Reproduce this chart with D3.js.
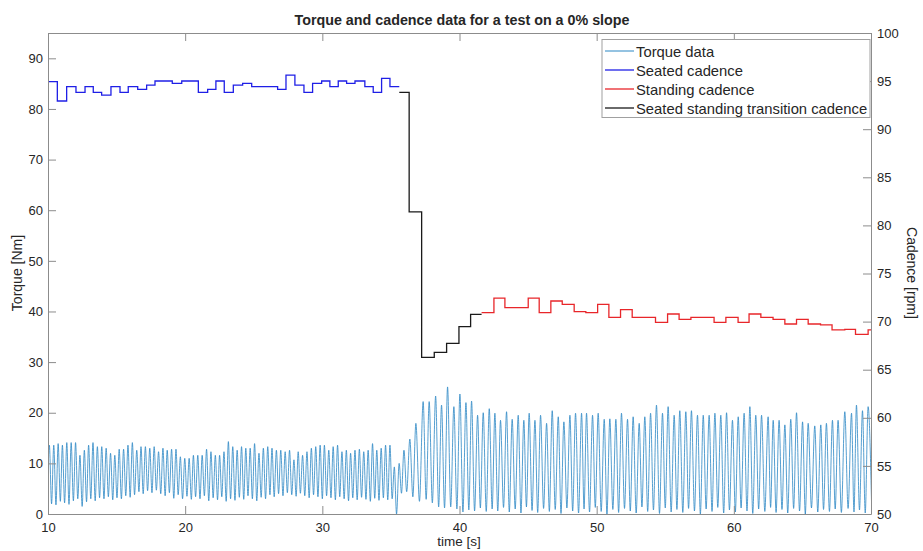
<!DOCTYPE html>
<html>
<head>
<meta charset="utf-8">
<script src="https://cdn.jsdelivr.net/npm/d3@7"></script>
<style>
  body { margin: 0; background: #fff; }
  text { font-family: "Liberation Sans", Arial, sans-serif; fill: #262626; }
</style>
</head>
<body>
<svg id="chart" width="923" height="551"></svg>
<script>
const peakTime = [10.10,10.42,10.74,11.05,11.37,11.69,12.01,12.33,12.65,12.96,13.28,13.60,13.92,14.24,14.56,14.87,15.19,15.51,15.83,16.15,
  16.47,16.78,17.10,17.42,17.74,18.06,18.38,18.69,19.01,19.33,19.65,19.97,20.29,20.60,20.92,21.24,21.56,21.88,22.20,22.51,
  22.83,23.15,23.47,23.79,24.11,24.42,24.74,25.06,25.38,25.70,26.02,26.33,26.65,26.97,27.29,27.61,27.93,28.24,28.56,28.88,
  29.20,29.52,29.84,30.15,30.47,30.79,31.11,31.43,31.75,32.06,32.38,32.70,33.02,33.34,33.66,33.97,34.29,34.61,34.93,
  35.25,35.60,35.95,36.38,36.82,37.35,37.79,38.26,38.69,39.13,39.59,40.03,40.47,40.88,41.32,41.73,42.17,
  42.58,42.99,43.43,43.84,44.28,44.69,45.08,45.50,45.91,46.35,46.76,47.20,47.61,48.05,48.46,48.90,49.26,49.70,50.11,50.55,
  50.96,51.40,51.81,52.25,52.66,53.10,53.51,53.93,54.36,54.80,55.21,55.65,56.06,56.50,56.91,57.35,57.77,58.20,58.62,59.05,
  59.47,59.90,60.32,60.75,61.17,61.60,62.02,62.50,62.87,63.30,63.72,64.15,64.57,65.01,65.42,65.90,66.34,66.75,67.19,67.60,
  68.09,68.58,68.94,69.38,69.79];
const peakValue = [13.6,13.6,13.9,13.6,14.1,14.1,14.1,11.6,12.6,13.6,14.1,13.3,13.3,13.0,12.0,11.6,12.8,12.8,13.6,14.1,
  12.6,13.3,13.3,13.0,13.3,12.3,13.0,12.6,12.8,12.8,11.3,11.0,11.0,11.6,11.6,11.6,12.8,12.3,11.6,11.6,
  12.3,14.3,13.3,12.6,13.3,13.0,13.0,13.9,12.0,13.0,13.3,13.0,12.6,12.6,12.3,12.6,10.7,12.3,11.6,12.3,
  13.0,13.3,13.6,13.6,12.6,13.3,13.6,12.3,12.6,12.0,12.6,12.8,12.3,12.6,13.9,12.6,13.0,13.6,13.6,
  9.3,10.0,12.6,14.8,17.9,22.2,22.2,23.3,21.5,25.1,21.2,23.7,22.0,22.3,19.5,20.0,20.8,
  19.9,18.5,20.2,18.7,19.5,18.5,19.9,18.5,19.5,17.9,20.4,19.2,18.2,19.5,19.9,19.9,19.9,19.5,19.9,18.7,
  18.8,18.7,19.9,18.7,19.2,17.9,19.2,19.9,21.5,19.9,21.2,19.5,20.4,20.2,20.4,19.5,19.5,19.5,19.9,19.5,
  20.0,18.5,19.2,19.9,21.2,19.5,19.5,19.2,18.5,18.5,17.6,18.7,20.0,18.2,17.9,17.4,17.6,17.9,18.5,18.5,
  20.2,19.9,21.5,20.4,21.2];
const troughTime = [9.94,10.26,10.58,10.90,11.21,11.53,11.85,12.17,12.49,12.81,13.12,13.44,13.76,14.08,14.40,14.72,15.03,15.35,15.67,15.99,
  16.31,16.63,16.94,17.26,17.58,17.90,18.22,18.54,18.85,19.17,19.49,19.81,20.13,20.45,20.76,21.08,21.40,21.72,22.04,22.36,
  22.67,22.99,23.31,23.63,23.95,24.27,24.58,24.90,25.22,25.54,25.86,26.18,26.49,26.81,27.13,27.45,27.77,28.09,28.40,28.72,
  29.04,29.36,29.68,30.00,30.31,30.63,30.95,31.27,31.59,31.91,32.22,32.54,32.86,33.18,33.50,33.82,34.13,34.45,34.77,35.09,
  35.41,35.77,36.15,36.60,37.08,37.57,38.02,38.48,38.91,39.36,39.81,40.25,40.68,41.10,41.52,41.95,42.38,
  42.79,43.21,43.63,44.06,44.48,44.88,45.29,45.70,46.13,46.55,46.98,47.40,47.83,48.25,48.68,49.08,49.48,49.90,50.33,50.75,
  51.18,51.60,52.03,52.45,52.88,53.30,53.72,54.14,54.58,55.00,55.43,55.85,56.28,56.70,57.13,57.56,57.98,58.41,58.83,59.26,
  59.68,60.11,60.53,60.96,61.38,61.81,62.26,62.68,63.08,63.51,63.93,64.36,64.79,65.21,65.66,66.12,66.54,66.97,67.39,67.84,
  68.33,68.76,69.16,69.58,70.05];
const troughValue = [2.2,2.0,1.8,2.5,2.2,1.9,2.6,3.0,1.5,2.4,3.0,2.6,3.2,3.0,3.4,2.8,3.2,3.0,3.6,3.3,
  3.8,4.4,4.0,4.6,4.2,4.7,4.0,3.6,4.2,3.1,3.8,3.0,3.5,2.9,3.4,3.0,3.6,2.6,3.2,2.8,
  3.4,2.5,3.0,2.7,3.3,2.9,3.6,3.0,2.6,3.3,3.0,3.8,3.4,4.0,3.6,4.2,3.8,3.5,4.1,3.6,
  3.2,3.8,3.4,3.0,3.6,3.2,2.8,3.4,3.0,2.6,3.2,2.8,3.3,2.9,2.5,3.1,2.7,3.2,2.8,3.0,
  0.0,4.1,4.4,3.4,2.5,2.9,2.2,1.4,1.2,1.4,1.0,0.4,0.8,0.6,1.2,0.5,1.0,
  0.6,1.3,0.4,1.0,0.2,1.4,0.7,0.3,1.1,0.5,0.9,0.1,1.2,0.6,0.2,1.0,0.4,1.3,0.5,0.0,
  0.9,0.3,1.1,0.6,0.2,1.4,0.5,0.8,0.1,1.2,0.4,0.9,0.3,1.1,0.6,0.0,1.0,0.5,1.3,0.2,
  0.8,0.4,1.2,0.6,0.1,1.0,0.5,1.3,0.3,0.9,0.2,1.1,0.6,0.0,1.2,0.4,0.9,0.5,1.0,0.3,
  1.1,0.4,0.8,0.2,1.0];

// cadence steps (start time in s, cadence in rpm)
const seatedTime = [10.00,10.68,11.36,12.04,12.70,13.30,13.91,14.59,15.25,15.85,16.54,17.19,17.80,19.06,19.75,20.96,21.64,22.24,22.85,
  23.51,24.19,24.85,26.74,27.35,28.00,28.66,29.29,29.95,30.55,31.16,31.77,32.38,33.10,33.71,34.32,34.93,35.61];
const seatedRpm = [94.94,92.93,94.42,93.83,94.42,93.83,93.55,94.42,93.83,94.42,94.14,94.59,95.01,94.77,95.01,93.83,94.14,95.01,93.83,
  94.59,94.77,94.42,94.14,95.63,94.59,93.83,94.77,95.01,94.42,95.01,94.77,95.01,94.42,93.83,95.29,94.42,94.42];

const transitionTime = [35.61,36.33,37.24,38.16,39.06,39.96,40.81,41.61];
const transitionRpm = [93.83,81.40,66.29,66.80,67.74,69.47,70.75,70.75];

const standingTime = [41.61,42.51,43.31,45.01,45.81,46.66,47.49,48.36,49.21,50.07,50.89,51.74,52.59,54.29,55.17,56.01,56.87,
  58.56,59.42,60.31,61.11,61.97,62.86,63.72,64.57,65.42,66.32,67.16,68.09,68.87,69.79,70.00];
const standingRpm = [70.93,72.45,71.45,72.45,70.93,72.14,71.80,71.03,70.93,71.80,70.44,71.24,70.44,69.92,70.79,70.24,70.44,
  69.92,70.44,69.92,70.79,70.44,70.24,69.75,70.24,69.75,69.65,69.13,69.20,68.68,69.13,69.13];

const xTicks = [10,20,30,40,50,60,70];
const torqueTicks = [0,10,20,30,40,50,60,70,80,90];
const cadenceTicks = [50,55,60,65,70,75,80,85,90,95,100];

const legendLabels = ["Torque data","Seated cadence","Standing cadence","Seated standing transition cadence"];
const colors = ["#2b87c4","#1f1fe6","#e8262a","#1a1a1a"];

const svg = d3.select("#chart");
const plotLeft = 48, plotRight = 871, plotTop = 33, plotBottom = 514;

const x = d3.scaleLinear().domain([10, 70]).range([plotLeft, plotRight]);
const yL = d3.scaleLinear().domain([0, 95]).range([plotBottom, plotTop]);
const yR = d3.scaleLinear().domain([50, 100]).range([plotBottom, plotTop]);

svg.append("clipPath").attr("id", "plot")
    .append("rect").attr("x", plotLeft).attr("y", plotTop)
    .attr("width", plotRight - plotLeft).attr("height", plotBottom - plotTop);

// torque line through the read extrema
const torque = peakTime.map((t, i) => ({ t: t, v: peakValue[i] }))
    .concat(troughTime.map((t, i) => ({ t: t, v: troughValue[i] })))
    .sort((a, b) => a.t - b.t);

const g = svg.append("g").attr("clip-path", "url(#plot)");

g.append("path")
    .datum(torque)
    .attr("fill", "none")
    .attr("stroke", colors[0])
    .attr("stroke-width", 0.8)
    .attr("d", d3.line().x(d => x(d.t)).y(d => yL(d.v)).curve(d3.curveMonotoneX));

const step = d3.line().x(d => x(d[0])).y(d => yR(d[1])).curve(d3.curveStepAfter);

g.append("path")
    .datum(d3.zip(seatedTime, seatedRpm))
    .attr("fill", "none").attr("stroke", colors[1]).attr("stroke-width", 1.3)
    .attr("d", step);

g.append("path")
    .datum(d3.zip(standingTime, standingRpm))
    .attr("fill", "none").attr("stroke", colors[2]).attr("stroke-width", 1.3)
    .attr("d", step);

g.append("path")
    .datum(d3.zip(transitionTime, transitionRpm))
    .attr("fill", "none").attr("stroke", colors[3]).attr("stroke-width", 1.3)
    .attr("d", step);

// axes, ticks pointing inward
function styleAxis(sel) {
    sel.select(".domain").attr("stroke", "#8c8c8c");
    sel.selectAll(".tick line").attr("stroke", "#8c8c8c");
    sel.selectAll("text").style("font-size", "13px").attr("fill", "#262626");
}

svg.append("g").attr("transform", `translate(0,${plotBottom})`)
    .call(d3.axisBottom(x).tickValues(xTicks).tickSize(-8).tickSizeOuter(0).tickPadding(9))
    .call(styleAxis);

svg.append("g").attr("transform", `translate(0,${plotTop})`)
    .call(d3.axisTop(x).tickValues(xTicks).tickSize(-8).tickSizeOuter(0).tickFormat(""))
    .call(styleAxis);

svg.append("g").attr("transform", `translate(${plotLeft},0)`)
    .call(d3.axisLeft(yL).tickValues(torqueTicks).tickSize(-8).tickSizeOuter(0).tickPadding(5))
    .call(styleAxis);

svg.append("g").attr("transform", `translate(${plotRight},0)`)
    .call(d3.axisRight(yR).tickValues(cadenceTicks).tickSize(-8).tickSizeOuter(0).tickPadding(6))
    .call(styleAxis);

// labels
svg.append("text")
    .attr("x", 462).attr("y", 25)
    .attr("text-anchor", "middle")
    .style("font-size", "14.3px").style("font-weight", "bold")
    .text("Torque and cadence data for a test on a 0% slope");

svg.append("text")
    .attr("x", 459).attr("y", 546)
    .attr("text-anchor", "middle")
    .style("font-size", "13.5px")
    .text("time [s]");

svg.append("text")
    .attr("transform", "translate(22,273) rotate(-90)")
    .attr("text-anchor", "middle")
    .style("font-size", "14px")
    .text("Torque [Nm]");

svg.append("text")
    .attr("transform", "translate(907,273) rotate(90)")
    .attr("text-anchor", "middle")
    .style("font-size", "14px")
    .text("Cadence [rpm]");

// legend
const legend = svg.append("g");
legend.append("rect")
    .attr("x", 602).attr("y", 39.5).attr("width", 268).attr("height", 78)
    .attr("fill", "#fff").attr("stroke", "#a0a0a0").attr("stroke-width", 1);

legendLabels.forEach(function(label, i) {
    const yy = 51 + i * 19;
    legend.append("line")
        .attr("x1", 605).attr("x2", 634).attr("y1", yy).attr("y2", yy)
        .attr("stroke", colors[i]).attr("stroke-width", i === 0 ? 1 : 1.3);
    legend.append("text")
        .attr("x", 636).attr("y", yy + 5.5)
        .style("font-size", "14.8px")
        .text(label);
});
</script>
</body>
</html>
